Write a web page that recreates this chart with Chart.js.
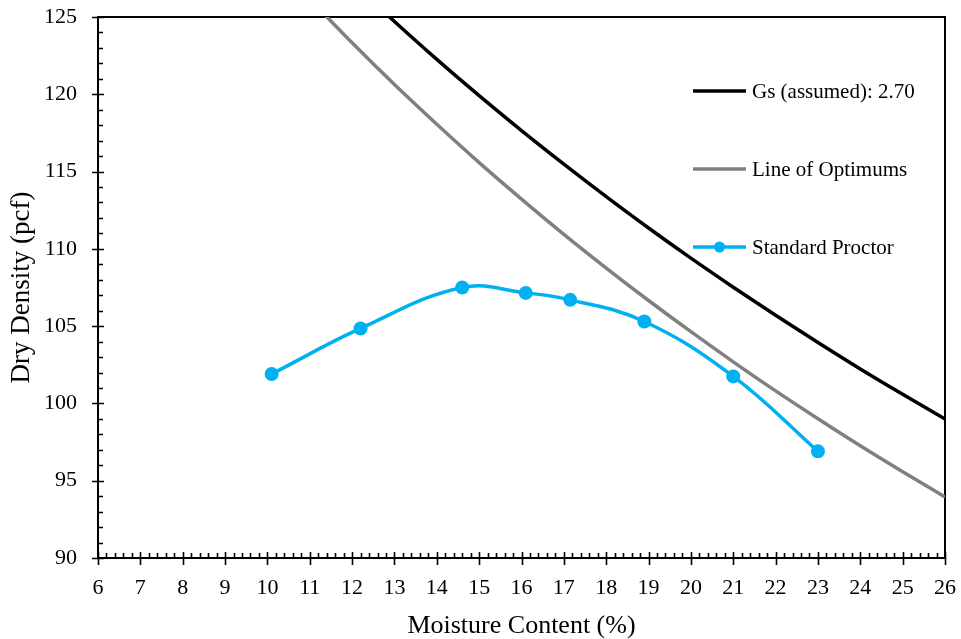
<!DOCTYPE html>
<html>
<head>
<meta charset="utf-8">
<script src="https://cdn.jsdelivr.net/npm/chart.js@4/dist/chart.umd.min.js"></script>
<style>
  html, body { margin: 0; padding: 0; background: #fff; }
  #wrap { width: 961px; height: 639px; }
</style>
</head>
<body>
<div id="wrap"><canvas id="compaction"></canvas></div>
<script>
// Standard Proctor test points
const proctorMoisture = [10.1, 12.2, 14.6, 16.1, 17.15, 18.9, 21.0, 23.0];
const proctorDensity = [101.9, 104.85, 107.5, 107.15, 106.7, 105.3, 101.75, 96.9];

// zero air voids curve, Gs = 2.70
const zavMoisture = [12, 13, 14, 15, 16, 17, 18, 19, 20, 21, 22, 23, 24, 25, 26];
const zavDensity = [127.25, 124.71, 122.26, 119.91, 117.65, 115.48, 113.38, 111.35, 109.40, 107.52, 105.70, 103.94, 102.23, 100.59, 98.99];

// line of optimums
const optMoisture = [11, 12, 13, 14, 15, 16, 17, 18, 19, 20, 21, 22, 23, 24, 25, 26];
const optDensity = [126.15, 123.33, 120.63, 118.06, 115.58, 113.22, 110.94, 108.76, 106.66, 104.64, 102.69, 100.81, 99.01, 97.26, 95.58, 93.95];

const xTicks = { min: 6, max: 26, step: 1, minor: 0.2 };
const yTicks = { min: 90, max: 125, step: 5, minor: 1 };

const FONT = "'Liberation Serif', 'Times New Roman', serif";
const BLUE = '#00B0F0';

function pts(xs, ys) {
  return xs.map((x, i) => ({ x: x, y: ys[i] }));
}

// axis tick marks (Excel style: major cross, minor inside) + frame
const tickMarks = {
  id: 'tickMarks',
  beforeDatasetsDraw(chart) {
    const { ctx, chartArea: a, scales } = chart;
    const xs = scales.x, ys = scales.y;
    ctx.save();
    ctx.strokeStyle = '#000';
    ctx.lineWidth = 2;
    ctx.beginPath();
    ctx.moveTo(a.left, a.top);
    ctx.lineTo(a.right, a.top);
    ctx.lineTo(a.right, a.bottom);
    ctx.stroke();

    ctx.lineWidth = 1.6;
    ctx.beginPath();
    const nx = Math.round((xTicks.max - xTicks.min) / xTicks.minor);
    for (let i = 0; i <= nx; i++) {
      const v = xTicks.min + i * xTicks.minor;
      const px = Math.round(xs.getPixelForValue(v)) + 0.5;
      if (i % 5 === 0) {
        ctx.moveTo(px, a.bottom - 6);
        ctx.lineTo(px, a.bottom + 7);
      } else {
        ctx.moveTo(px, a.bottom - 5);
        ctx.lineTo(px, a.bottom);
      }
    }
    for (let v = yTicks.min; v <= yTicks.max; v += yTicks.minor) {
      const py = Math.round(ys.getPixelForValue(v)) + 0.5;
      if ((v - yTicks.min) % yTicks.step === 0) {
        ctx.moveTo(a.left - 6, py);
        ctx.lineTo(a.left + 6, py);
      } else {
        ctx.moveTo(a.left, py);
        ctx.lineTo(a.left + 5, py);
      }
    }
    ctx.stroke();
    ctx.restore();
  }
};

// legend inside the plot, right side
const insideLegend = {
  id: 'insideLegend',
  afterDraw(chart) {
    const ctx = chart.ctx;
    const rows = [91, 169, 247];
    ctx.save();
    ctx.font = '21px ' + FONT;
    ctx.textBaseline = 'middle';
    ctx.fillStyle = '#000';
    chart.data.datasets.forEach((ds, i) => {
      const y = rows[i];
      ctx.strokeStyle = ds.borderColor;
      ctx.lineWidth = 3.5;
      ctx.beginPath();
      ctx.moveTo(693, y);
      ctx.lineTo(746, y);
      ctx.stroke();
      if (ds.pointRadius > 0) {
        ctx.fillStyle = ds.pointBackgroundColor;
        ctx.beginPath();
        ctx.arc(719.5, y, 5.5, 0, Math.PI * 2);
        ctx.fill();
      }
      ctx.fillStyle = '#000';
      ctx.fillText(ds.label, 752, y + 1);
    });
    ctx.restore();
  }
};

new Chart(document.getElementById('compaction').getContext('2d'), {
  type: 'line',
  data: {
    datasets: [
      {
        label: 'Gs (assumed): 2.70',
        data: pts(zavMoisture, zavDensity),
        borderColor: '#000000',
        borderWidth: 3.5,
        pointRadius: 0,
        cubicInterpolationMode: 'monotone',
        clip: 0,
        order: 2
      },
      {
        label: 'Line of Optimums',
        data: pts(optMoisture, optDensity),
        borderColor: '#808080',
        borderWidth: 3.5,
        pointRadius: 0,
        cubicInterpolationMode: 'monotone',
        clip: 0,
        order: 1
      },
      {
        label: 'Standard Proctor',
        data: pts(proctorMoisture, proctorDensity),
        borderColor: BLUE,
        borderWidth: 3.5,
        tension: 0.4,
        pointRadius: 7,
        pointBackgroundColor: BLUE,
        pointBorderWidth: 0,
        order: 0
      }
    ]
  },
  options: {
    responsive: true,
    maintainAspectRatio: false,
    animation: false,
    layout: { padding: { top: 17, right: 16, left: 0, bottom: 0 } },
    plugins: {
      legend: { display: false },
      tooltip: { enabled: false }
    },
    scales: {
      x: {
        type: 'linear',
        min: xTicks.min,
        max: xTicks.max,
        afterFit: s => {
          s.height = 81;
          s.paddingLeft = 0;
          s.paddingRight = 0;
        },
        grid: { display: false, drawTicks: false },
        border: { display: true, color: '#000', width: 2 },
        ticks: {
          stepSize: xTicks.step,
          padding: 17,
          color: '#000',
          font: { family: FONT, size: 22 }
        },
        title: {
          display: true,
          text: 'Moisture Content (%)',
          color: '#000',
          font: { family: FONT, size: 26, lineHeight: 1 },
          padding: { top: 0, bottom: 0 }
        }
      },
      y: {
        min: yTicks.min,
        max: yTicks.max,
        afterFit: s => {
          s.width = 98;
          s.paddingTop = 0;
          s.paddingBottom = 0;
        },
        grid: { display: false, drawTicks: false },
        border: { display: true, color: '#000', width: 2 },
        ticks: {
          stepSize: yTicks.step,
          padding: 21,
          color: '#000',
          font: { family: FONT, size: 22 }
        },
        title: {
          display: true,
          text: 'Dry Density (pcf)',
          color: '#000',
          font: { family: FONT, size: 27, lineHeight: 1 },
          padding: { top: 8, bottom: 0 }
        }
      }
    }
  },
  plugins: [tickMarks, insideLegend]
});
</script>
</body>
</html>
